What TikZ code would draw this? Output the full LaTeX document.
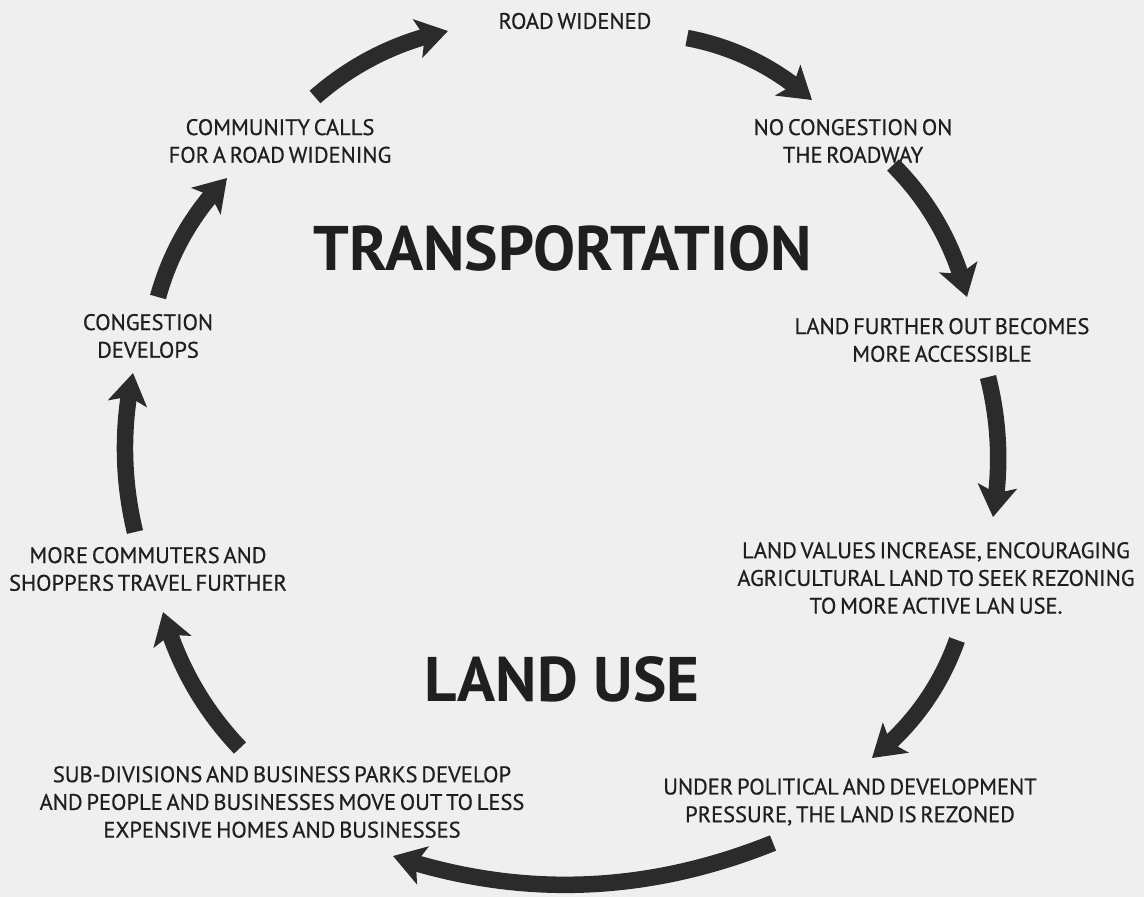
\documentclass[tikz,border=0pt]{standalone}
\usepackage{fontspec}
\setmainfont{PT Sans}
\newfontfamily\lblfam{PT Sans}[FakeBold=0.6]
\usetikzlibrary{arrows.meta,bending}
\definecolor{bg}{HTML}{EFEFEF}
\definecolor{ink}{HTML}{1F1F1F}
\definecolor{arr}{HTML}{2B2B2B}
\newcommand\lblfont{\lblfam\fontsize{22.5}{27.7}\selectfont\spaceskip=3.8pt plus 1pt\relax}
\tikzset{
  lbl/.style={text=ink, align=center, inner sep=0pt, font=\lblfont},
  ttl/.style={text=ink, inner sep=0pt, font=\fontsize{63}{75}\selectfont\bfseries},
  flow/.style={draw=arr, line width=16.5pt, -{Stealth[length=31pt,width=39pt,inset=7pt]}}
}
\begin{document}
\begin{tikzpicture}[x=1pt,y=-1pt]
\fill[bg] (0,0) rectangle (1144,897);
\useasboundingbox (0,0) rectangle (1144,897);
% labels
\node[lbl] (n1) at (575,21) {ROAD WIDENED};
\node[lbl] (n2) at (853,141) {NO CONGESTION ON\\THE ROADWAY};
\node[lbl] (n3) at (942,340) {LAND FURTHER OUT BECOMES\\MORE ACCESSIBLE};
\node[lbl] (n4) at (936,578) {LAND VALUES INCREASE, ENCOURAGING\\AGRICULTURAL LAND TO SEEK REZONING\\TO MORE ACTIVE LAN USE.};
\node[lbl] (n5) at (850,802) {UNDER POLITICAL AND DEVELOPMENT\\PRESSURE, THE LAND IS REZONED};
\node[lbl] (n6) at (282,802) {SUB-DIVISIONS AND BUSINESS PARKS DEVELOP\\AND PEOPLE AND BUSINESSES MOVE OUT TO LESS\\EXPENSIVE HOMES AND BUSINESSES};
\node[lbl] (n7) at (148,569) {MORE COMMUTERS AND\\SHOPPERS TRAVEL FURTHER};
\node[lbl] (n8) at (148,336) {CONGESTION\\DEVELOPS};
\node[lbl] (n9) at (280,141) {COMMUNITY CALLS\\FOR A ROAD WIDENING};
\node[ttl] (t1) at (563,248) {TRANSPORTATION};
\node[ttl] (t2) at (562,679) {LAND USE};
% arrow end points
\coordinate (a1s) at (315,97);  \coordinate (a1e) at (448,31);
\coordinate (a2s) at (687,38);  \coordinate (a2e) at (812,100);
\coordinate (a3s) at (893,165); \coordinate (a3e) at (967,297);
\coordinate (a4s) at (988,377); \coordinate (a4e) at (993,517);
\coordinate (a5s) at (957,640); \coordinate (a5e) at (872,758);
\coordinate (a6s) at (773,843); \coordinate (a6e) at (393,856);
\coordinate (a7s) at (240,748); \coordinate (a7e) at (163,612);
\coordinate (a8s) at (135,532); \coordinate (a8e) at (133,373);
\coordinate (a9s) at (158,297); \coordinate (a9e) at (227,178);
% arrows
\draw[flow] (a1s) .. controls (353.6,63.3) and (398,41.3) .. (a1e);
\draw[flow] (a2s) .. controls (734,46.9) and (775.6,67.5) .. (a2e);
\draw[flow] (a3s) .. controls (929.5,201.4) and (954.1,245.4) .. (a3e);
\draw[flow] (a4s) .. controls (999.7,423.7) and (1001.3,470.3) .. (a4e);
\draw[flow] (a5s) .. controls (940.2,687.3) and (911.8,726.7) .. (a5e);
\draw[flow] (a6s) .. controls (646.3,894) and (519.7,898.4) .. (a6e);
\draw[flow] (a7s) .. controls (203.1,709.3) and (177.5,663.9) .. (a7e);
\draw[flow] (a8s) .. controls (122.3,479) and (121.7,426) .. (a8e);
\draw[flow] (a9s) .. controls (170.7,251.3) and (193.7,211.7) .. (a9e);
\end{tikzpicture}
\end{document}
